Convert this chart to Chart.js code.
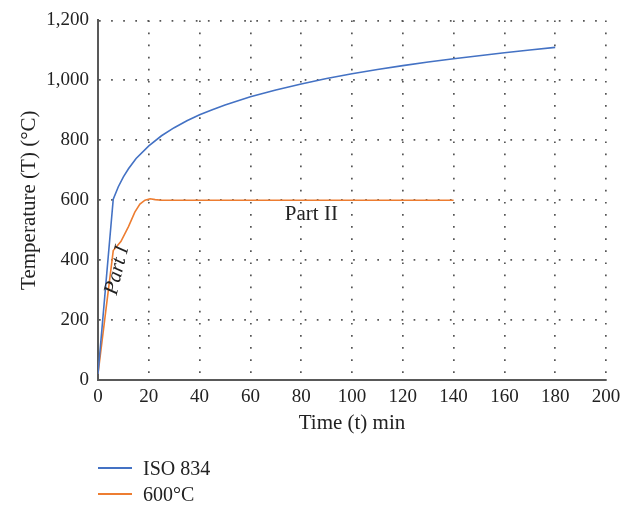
<!DOCTYPE html>
<html>
<head>
<meta charset="utf-8">
<script src="https://cdn.jsdelivr.net/npm/chart.js@4.4.1/dist/chart.umd.min.js"></script>
<style>
  html, body { margin: 0; padding: 0; background: #fff; }
  #wrap { position: relative; width: 634px; height: 506px; }
  #c { position: absolute; left: 0; top: 0; }
  .leg { position: absolute; left: 98px; font-family: "Liberation Serif", serif; font-size: 20px; color: #222; display: flex; align-items: center; height: 24px; }
  .leg span.line { display: inline-block; width: 34px; height: 2px; margin-right: 11px; }
</style>
</head>
<body>
<div id="wrap">
  <canvas id="c" width="634" height="506"></canvas>
  <div id="legend"></div>
</div>
<script>
// ---- data ----
const isoTime  = [0, 6, 8, 10, 12, 15, 20, 25, 30, 35, 40, 45, 50, 60, 70, 80, 90, 100, 110, 120, 130, 140, 150, 160, 170, 180];
const isoTemp  = [20, 603, 645, 678, 705, 739, 781, 815, 842, 865, 885, 902, 918, 945, 968, 988, 1006, 1022, 1036, 1049, 1061, 1072, 1082, 1092, 1101, 1110];
const t600Time = [0, 6, 9, 12, 14.5, 16.5, 18.5, 20.5, 22.5, 25, 140];
const t600Temp = [20, 432, 462, 512, 560, 587, 600, 605, 602, 600, 600];
const seriesNames = ["ISO 834", "600°C"];
const seriesColors = ["#4472C4", "#ED7D31"];
const xTicks = [0, 20, 40, 60, 80, 100, 120, 140, 160, 180, 200];
const yTicks = [0, 200, 400, 600, 800, 1000, 1200];
const xTitle = "Time (t) min";
const yTitle = "Temperature (T) (°C)";
const noteTexts = ["Part I", "Part II"];
const noteX = [7.5, 84];
const noteY = [366, 551];

const toPts = (xs, ys) => xs.map((x, i) => ({ x: x, y: ys[i] }));
const FONT = "'Liberation Serif', 'Times New Roman', serif";

const notesPlugin = {
  id: 'notes',
  afterDatasetsDraw(chart) {
    const { ctx, scales: { x, y } } = chart;
    ctx.save();
    ctx.fillStyle = '#222';
    ctx.textAlign = 'center';
    ctx.textBaseline = 'middle';
    ctx.save();
    ctx.translate(x.getPixelForValue(noteX[0]), y.getPixelForValue(noteY[0]));
    ctx.rotate(-76 * Math.PI / 180);
    ctx.font = 'italic 21px ' + FONT;
    ctx.fillText(noteTexts[0], 0, 0);
    ctx.restore();
    ctx.font = '21px ' + FONT;
    ctx.fillText(noteTexts[1], x.getPixelForValue(noteX[1]), y.getPixelForValue(noteY[1]));
    ctx.restore();
  }
};

const grid = { color: '#555', lineWidth: 1.7, drawTicks: false };
const border = { display: true, color: '#595959', width: 2, dash: [1.7, 10.4] };

new Chart(document.getElementById('c'), {
  type: 'scatter',
  data: {
    datasets: [
      { label: seriesNames[0], data: toPts(isoTime, isoTemp), showLine: true, borderColor: seriesColors[0], backgroundColor: seriesColors[0], borderWidth: 1.6, pointRadius: 0, tension: 0 },
      { label: seriesNames[1], data: toPts(t600Time, t600Temp), showLine: true, borderColor: seriesColors[1], backgroundColor: seriesColors[1], borderWidth: 1.6, pointRadius: 0, tension: 0 }
    ]
  },
  options: {
    responsive: false,
    animation: false,
    events: [],
    layout: { padding: { top: 16, right: 28, bottom: 66, left: 0 } },
    plugins: { legend: { display: false }, tooltip: { enabled: false } },
    scales: {
      x: {
        type: 'linear', min: 0, max: 200,
        afterBuildTicks: s => { s.ticks = xTicks.map(v => ({ value: v })); },
        afterFit: s => { s.height = 60; },
        ticks: { font: { family: FONT, size: 19 }, color: '#222', padding: 6, maxRotation: 0 },
        grid: grid,
        border: border,
        title: { display: true, text: xTitle, font: { family: FONT, size: 21 }, color: '#222', padding: { top: 4, bottom: 4 } }
      },
      y: {
        type: 'linear', min: 0, max: 1200,
        afterBuildTicks: s => { s.ticks = yTicks.map(v => ({ value: v })); },
        afterFit: s => { s.width = 98; },
        ticks: { font: { family: FONT, size: 19 }, color: '#222', padding: 9, callback: v => v.toLocaleString('en-US') },
        grid: grid,
        border: border,
        title: { display: true, text: yTitle, font: { family: FONT, size: 21 }, color: '#222', padding: { top: 17, bottom: 4 } }
      }
    }
  },
  plugins: [notesPlugin]
});

const leg = document.getElementById('legend');
const legTops = [456, 482];
seriesNames.forEach((n, i) => {
  const d = document.createElement('div');
  d.className = 'leg';
  d.style.top = legTops[i] + 'px';
  const l = document.createElement('span');
  l.className = 'line';
  l.style.background = seriesColors[i];
  d.appendChild(l);
  d.appendChild(document.createTextNode(n));
  leg.appendChild(d);
});
</script>
</body>
</html>
